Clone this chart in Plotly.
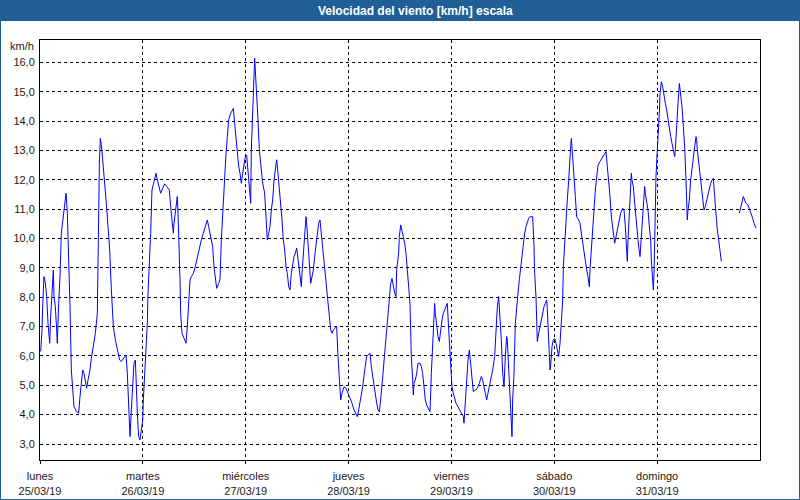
import plotly.graph_objects as go

# Hours since Monday 25/03/19 00:00 and wind speed (km/h)
hours = [
    0.16, 0.47, 0.62, 0.93, 1.24, 1.56, 1.87, 2.10, 2.26, 2.49, 2.80, 3.11, 3.27, 3.58, 3.89, 4.04,
    4.36, 4.67, 4.98, 5.44, 5.76, 6.07, 6.38, 6.69, 7.00, 7.31, 7.62, 7.93, 8.56, 9.02, 9.33, 9.64,
    9.96, 10.27, 10.58, 10.89, 11.20, 11.67, 11.98, 12.44, 12.91, 13.38, 13.53, 13.69, 13.85, 14.08,
    14.31, 14.62, 15.09, 15.48, 15.87, 16.26, 16.65, 17.11, 17.58, 18.04, 18.58, 18.98, 19.45, 20.07,
    20.38, 20.69, 21.00, 21.31, 21.62, 21.93, 22.25, 22.40, 22.71, 23.02, 23.33, 23.65, 23.96, 24.11,
    24.42, 24.73, 25.04, 25.20, 25.51, 25.82, 26.13, 26.44, 26.76, 27.07, 27.38,
    27.84, 28.16, 28.47, 29.09, 29.56, 30.18, 30.49, 30.80, 31.11, 31.27, 31.58, 31.89, 32.04, 32.20,
    32.51, 32.67, 32.82, 33.13, 33.60, 34.07, 34.38, 34.69, 35.00, 35.31, 35.78, 36.24, 36.71, 37.18,
    37.64, 38.11, 38.58, 39.04, 39.36, 39.82, 40.29, 40.60, 40.91, 41.22, 41.69, 42.00, 42.31, 42.78,
    43.09, 43.40, 43.71, 44.02, 44.49, 45.11, 45.42, 45.73, 46.04, 46.36, 46.67, 46.98, 47.29, 47.60,
    47.91, 48.22, 48.53, 48.84, 49.16, 49.31, 49.62, 49.93, 50.09, 50.24, 50.56, 50.87, 51.18, 51.49,
    51.96, 52.42, 52.73, 53.04, 53.36, 53.67, 53.98, 54.29, 54.60, 54.91, 55.22, 55.53,
    55.84, 56.16, 56.47, 56.78, 57.09, 57.40, 57.71, 58.02, 58.33, 58.64, 58.96, 59.27, 59.58, 59.89,
    60.04, 60.36, 60.67, 60.98, 61.13, 61.44, 61.76, 62.07, 62.22, 62.53, 62.84, 63.16, 63.47, 63.78,
    64.09, 64.40, 64.71, 65.02, 65.33, 65.64, 65.96, 66.27, 66.58, 66.89, 67.20, 67.51, 67.82, 68.13,
    68.44, 68.76, 69.22, 69.53, 69.84, 70.16, 70.47, 70.93, 71.40, 71.87, 72.33, 72.80, 73.27, 73.73,
    74.04, 74.36, 74.82, 75.29, 75.76, 76.22, 76.53, 77.00, 77.31, 77.62, 77.93, 78.24, 78.56, 78.87,
    79.18, 79.64, 79.96, 80.27, 80.58, 80.89, 81.20, 81.51, 81.82, 82.13, 82.44, 82.76, 83.07, 83.22,
    83.69, 83.84, 84.16, 84.47, 84.78, 85.09, 85.40, 85.71, 86.02, 86.33, 86.49, 86.64, 86.96, 87.11,
    87.27, 87.58, 87.89, 88.20, 88.67, 88.98, 89.29, 89.60, 89.91, 90.22, 90.53, 91.00, 91.31, 91.62,
    91.78, 92.09, 92.24, 92.56, 92.87, 93.18, 93.49, 93.80, 94.11, 94.42, 94.73, 95.04, 95.36, 95.67,
    95.82, 96.13, 96.44, 96.76, 97.07, 97.53, 98.00, 98.47, 98.78, 98.93, 99.24, 99.56, 99.87, 100.18,
    100.49, 100.80, 101.11, 101.58, 102.04, 102.51, 102.98, 103.29, 103.60, 103.91, 104.22, 104.53,
    104.84, 105.16, 105.62, 106.09, 106.40, 106.71, 107.02, 107.33, 107.64, 107.96, 108.27, 108.58,
    108.89, 109.04, 109.20, 109.51, 109.82, 109.98, 110.13, 110.29, 110.60, 110.91, 111.22, 111.53,
    111.84, 112.16, 112.47, 112.78, 113.09, 113.40, 113.71, 114.02, 114.33, 114.96, 115.27, 115.42,
    115.73, 115.89, 116.04, 116.36, 116.67, 116.98, 117.29, 117.60, 117.91, 118.22, 118.38, 118.53,
    118.84, 119.00, 119.16, 119.47, 119.78, 120.09, 120.40, 120.71, 121.02, 121.33, 121.64, 121.96,
    122.11, 122.42, 122.73, 123.04, 123.36, 123.51, 123.82, 123.98, 124.29, 124.60, 124.91, 125.22,
    125.69, 126.00, 126.31, 126.62, 126.93, 127.24, 127.56, 127.87, 128.18, 128.33, 128.64, 128.96,
    129.27, 129.58, 129.89, 130.20, 130.67, 131.13, 131.60, 132.07, 132.38, 132.69, 133.00, 133.31,
    133.78, 134.09, 134.40, 134.71, 135.02, 135.49, 135.96, 136.27, 136.58, 136.73, 136.89, 137.04,
    137.20, 137.51, 137.82, 137.98, 138.13, 138.44, 138.76, 139.07, 139.38, 139.69, 140.00,
    140.15, 140.46, 140.78, 141.09, 141.24, 141.56, 141.87, 142.18, 142.49, 142.64, 142.80, 142.96,
    143.11, 143.27, 143.42, 143.73, 144.04, 144.36, 144.51, 144.67, 144.98, 145.29, 145.60, 145.91,
    146.22, 146.53, 146.84, 147.16, 147.47, 147.78, 148.09, 148.24, 148.56, 148.87, 149.18, 149.49,
    149.80, 150.11, 150.42, 150.73, 151.04, 151.20, 151.51, 151.82, 152.13, 152.44, 152.76, 153.07,
    153.22, 153.38, 153.69, 154.00, 154.31, 154.62, 154.93, 155.24, 155.56, 155.87, 156.18, 156.49,
    156.80, 157.11, 157.42, 157.73, 158.04, 158.36, 158.67, 158.98,
    161.0,
    163.18, 163.49, 163.80, 164.11, 164.42, 164.73, 165.20, 165.67, 165.98, 166.29, 166.60, 167.07,
]

speed = [
    6.15, 6.89, 7.68, 8.70, 8.48, 8.02, 7.11, 6.72, 6.43, 7.34, 8.13, 8.93, 8.02, 7.68, 6.89, 6.43,
    7.79, 8.70, 10.18, 10.86, 11.14, 11.54, 10.86, 9.38, 7.68, 5.52, 4.73, 4.27, 4.10, 4.05, 4.61, 5.18,
    5.52, 5.40, 5.07, 4.90, 5.18, 5.52, 5.92, 6.32, 6.77, 7.45, 9.38, 10.97, 12.56, 13.41,
    13.19, 12.68, 11.99, 11.20, 10.40, 9.61, 8.25, 7.00, 6.55, 6.20, 5.86, 5.81, 5.92, 6.03,
    5.40, 4.27, 3.25, 4.16, 4.84, 5.75, 5.86, 4.95, 4.05, 3.25, 3.14, 3.48, 3.82, 4.50,
    5.40, 6.32, 7.11, 8.13, 9.04, 10.18, 11.65, 11.88, 12.05, 12.22, 11.99,
    11.77, 11.54, 11.65, 11.86, 11.77, 11.65, 11.09, 10.63, 10.18, 10.52, 10.86, 11.31, 11.43, 10.86,
    9.72, 8.59, 7.45, 6.77, 6.60, 6.43, 7.00, 7.79, 8.59, 8.70, 8.81, 9.04, 9.38, 9.61,
    9.95, 10.18, 10.40, 10.63, 10.40, 10.06, 9.72, 9.04, 8.59, 8.30, 8.47, 8.59, 9.95, 11.43,
    11.99, 12.90, 13.47, 14.04, 14.26, 14.43, 13.92, 13.36, 12.79, 12.45, 12.22, 11.88, 12.22, 12.56,
    12.79, 12.84, 12.22, 11.54, 11.20, 13.02, 14.26, 15.63, 16.14, 15.74, 15.06, 14.04, 13.02, 12.45,
    11.88, 11.54, 10.63, 9.95, 10.18, 10.40, 10.97, 11.31, 11.99, 12.45, 12.68, 12.22,
    11.77, 11.20, 10.63, 9.95, 9.61, 9.04, 8.81, 8.36, 8.25, 8.81, 9.16, 9.38, 9.50, 9.67,
    9.50, 9.04, 8.70, 8.36, 8.81, 9.50, 10.06, 10.74, 10.52, 9.84, 9.16, 8.47, 8.70, 8.93,
    9.38, 9.72, 10.06, 10.52, 10.63, 10.18, 9.72, 9.27, 8.81, 8.13, 7.68, 7.23, 6.89, 6.77,
    6.89, 6.94, 7.00, 5.98, 5.07, 4.50, 4.73, 4.95, 4.90, 4.73, 4.61, 4.39, 4.16, 3.99,
    3.93, 4.16, 4.50, 4.95, 5.52, 5.98, 6.03, 6.09, 5.64, 5.30, 4.95, 4.61, 4.39, 4.16,
    4.10, 4.73, 5.30, 5.98, 6.55, 7.00, 7.68, 8.13, 8.47, 8.64, 8.36, 8.13, 8.02, 8.93,
    9.50, 10.06, 10.46, 10.29, 10.06, 9.84, 9.50, 8.93, 8.47, 7.79, 6.89, 5.98, 5.18, 4.67,
    5.07, 5.18, 5.40, 5.75, 5.75, 5.64, 5.40, 4.95, 4.50, 4.33, 4.22, 4.10, 5.40, 6.43,
    7.34, 7.79, 7.45, 7.00, 6.66, 6.49, 6.89, 7.23, 7.45, 7.57, 7.68, 7.79, 6.89, 6.09,
    5.52, 4.95, 4.73, 4.50, 4.39, 4.27, 4.16, 4.05, 3.93, 3.71, 4.39, 5.40, 5.86, 6.20,
    5.64, 5.18, 4.78, 4.84, 4.90, 5.07, 5.30, 5.18, 4.95, 4.73, 4.50, 4.73,
    4.95, 5.18, 5.52, 5.98, 6.77, 7.68, 8.02, 7.34, 6.55, 5.40, 4.95, 5.98,
    6.66, 6.55, 6.09, 5.40, 4.50, 3.71, 3.25, 4.50, 5.40, 7.11, 7.79, 8.13,
    8.59, 9.04, 9.50, 9.95, 10.18, 10.40, 10.57, 10.69, 10.74, 10.74, 9.72, 8.81,
    8.02, 7.00, 6.49, 6.77, 7.00, 7.23, 7.45, 7.68, 7.79, 7.91, 7.57, 7.00,
    5.86, 5.52, 5.69, 6.32, 6.55, 6.60, 6.43, 6.20, 5.98, 6.43, 7.11, 7.91,
    9.04, 9.95, 10.74, 11.31, 11.99, 12.56, 13.13, 13.41, 12.90, 12.11, 11.43, 10.74,
    10.63, 10.52, 10.18, 9.84, 9.50, 9.16, 8.93, 8.70, 8.36, 8.93, 9.72, 10.29,
    10.97, 11.65, 12.22, 12.50, 12.62, 12.73, 12.84, 12.96, 12.45, 11.99, 11.43, 10.74,
    10.06, 9.84, 10.06, 10.29, 10.57, 10.86, 11.03, 10.97, 10.40, 9.95, 9.50, 9.22,
    9.95, 10.86, 11.65, 12.22, 11.99, 11.77, 11.20, 10.63, 10.18, 9.72, 9.38,
    9.72, 10.52, 11.43, 11.77, 11.54, 11.20, 10.97, 10.40, 9.95, 9.27, 8.81, 8.59,
    8.25, 8.81, 9.95, 12.11, 13.02, 13.70, 14.26, 14.94, 15.34, 15.17, 14.83, 14.60,
    14.38, 14.04, 13.70, 13.47, 13.24, 12.96, 12.79, 13.02, 14.04, 14.60, 15.28, 14.94,
    14.49, 13.81, 13.13, 11.99, 10.63, 10.97, 11.31, 11.99, 12.45, 12.79, 13.13, 13.47,
    13.36, 13.02, 12.56, 12.11, 11.65, 11.31, 10.97, 11.09, 11.31, 11.54, 11.77, 11.88,
    11.99, 12.05, 11.43, 10.74, 10.29, 9.95, 9.50, 9.22,
    None,
    10.86, 11.09, 11.31, 11.43, 11.31, 11.20, 11.14, 10.97, 10.86, 10.69, 10.52, 10.35,
]

day_hours = [0, 24, 48, 72, 96, 120, 144]
day_names = ["lunes", "martes", "miércoles", "jueves", "viernes", "sábado", "domingo"]
day_dates = ["25/03/19", "26/03/19", "27/03/19", "28/03/19", "29/03/19", "30/03/19", "31/03/19"]
y_ticks = [3, 4, 5, 6, 7, 8, 9, 10, 11, 12, 13, 14, 15, 16]

title_text = "Velocidad del viento [km/h] escala"
unit_text = "km/h"

BLUE_BAR = "#1F5F96"
FONT = "Liberation Sans"

W, H = 800, 500
ML, MR, MT, MB = 40, 40, 40, 40
PW, PH = W - ML - MR, H - MT - MB


def px_x(p):
    return (p - ML) / PW


def px_y(p):
    return 1 - (p - MT) / PH


fig = go.Figure()
fig.add_trace(go.Scatter(
    x=hours, y=speed, mode="lines",
    line=dict(color="#0000FF", width=1),
    connectgaps=False, hoverinfo="skip", showlegend=False,
))

fig.update_layout(
    width=W, height=H, autosize=False,
    margin=dict(l=ML, r=MR, t=MT, b=MB, pad=0, autoexpand=False),
    paper_bgcolor="white", plot_bgcolor="white",
    separators=",.",
    font=dict(family=FONT, size=11, color="#1a1a1a"),
    showlegend=False,
    xaxis=dict(
        range=[0, 168], tickmode="array", tickvals=day_hours,
        ticktext=[f"{n}<br>{d}" for n, d in zip(day_names, day_dates)],
        showgrid=True, gridcolor="black", gridwidth=1, griddash="3px,3px",
        showline=True, linecolor="black", linewidth=1, mirror=True,
        ticks="outside", ticklen=3, tickcolor="black", zeroline=False,
        ticklabelstandoff=3, automargin=False,
        tickfont=dict(family=FONT, size=11, color="#1a1a1a"),
        fixedrange=True,
    ),
    yaxis=dict(
        range=[2.455, 16.76], tickmode="array", tickvals=y_ticks, tickformat=".1f",
        showgrid=True, gridcolor="black", gridwidth=1, griddash="3px,3px",
        showline=True, linecolor="black", linewidth=1, mirror=True,
        ticks="", zeroline=False, ticklabelstandoff=2, automargin=False,
        tickfont=dict(family=FONT, size=11, color="#1a1a1a"),
        fixedrange=True,
    ),
    shapes=[
        dict(type="rect", xref="paper", yref="paper",
             x0=px_x(0), x1=px_x(W), y0=px_y(21), y1=px_y(0),
             fillcolor=BLUE_BAR, line=dict(width=0), layer="above"),
        dict(type="rect", xref="paper", yref="paper",
             x0=px_x(0.5), x1=px_x(W - 0.5), y0=px_y(H - 0.5), y1=px_y(0.5),
             line=dict(color=BLUE_BAR, width=1), fillcolor="rgba(0,0,0,0)", layer="above"),
    ],
    annotations=[
        dict(text=f"<b>{title_text}</b>", xref="paper", yref="paper",
             x=px_x(W / 2 + 15), y=px_y(10.5), xanchor="center", yanchor="middle",
             showarrow=False, font=dict(family=FONT, size=12, color="white")),
        dict(text=unit_text, xref="paper", yref="paper",
             x=px_x(36), y=px_y(46), xanchor="right", yanchor="middle",
             showarrow=False, font=dict(family=FONT, size=11, color="#1a1a1a")),
    ],
)

fig.write_html(
    "out.html",
    config={"responsive": False, "displayModeBar": False, "staticPlot": True},
    post_script="document.body.style.margin='0px';document.body.style.overflow='hidden';",
)
